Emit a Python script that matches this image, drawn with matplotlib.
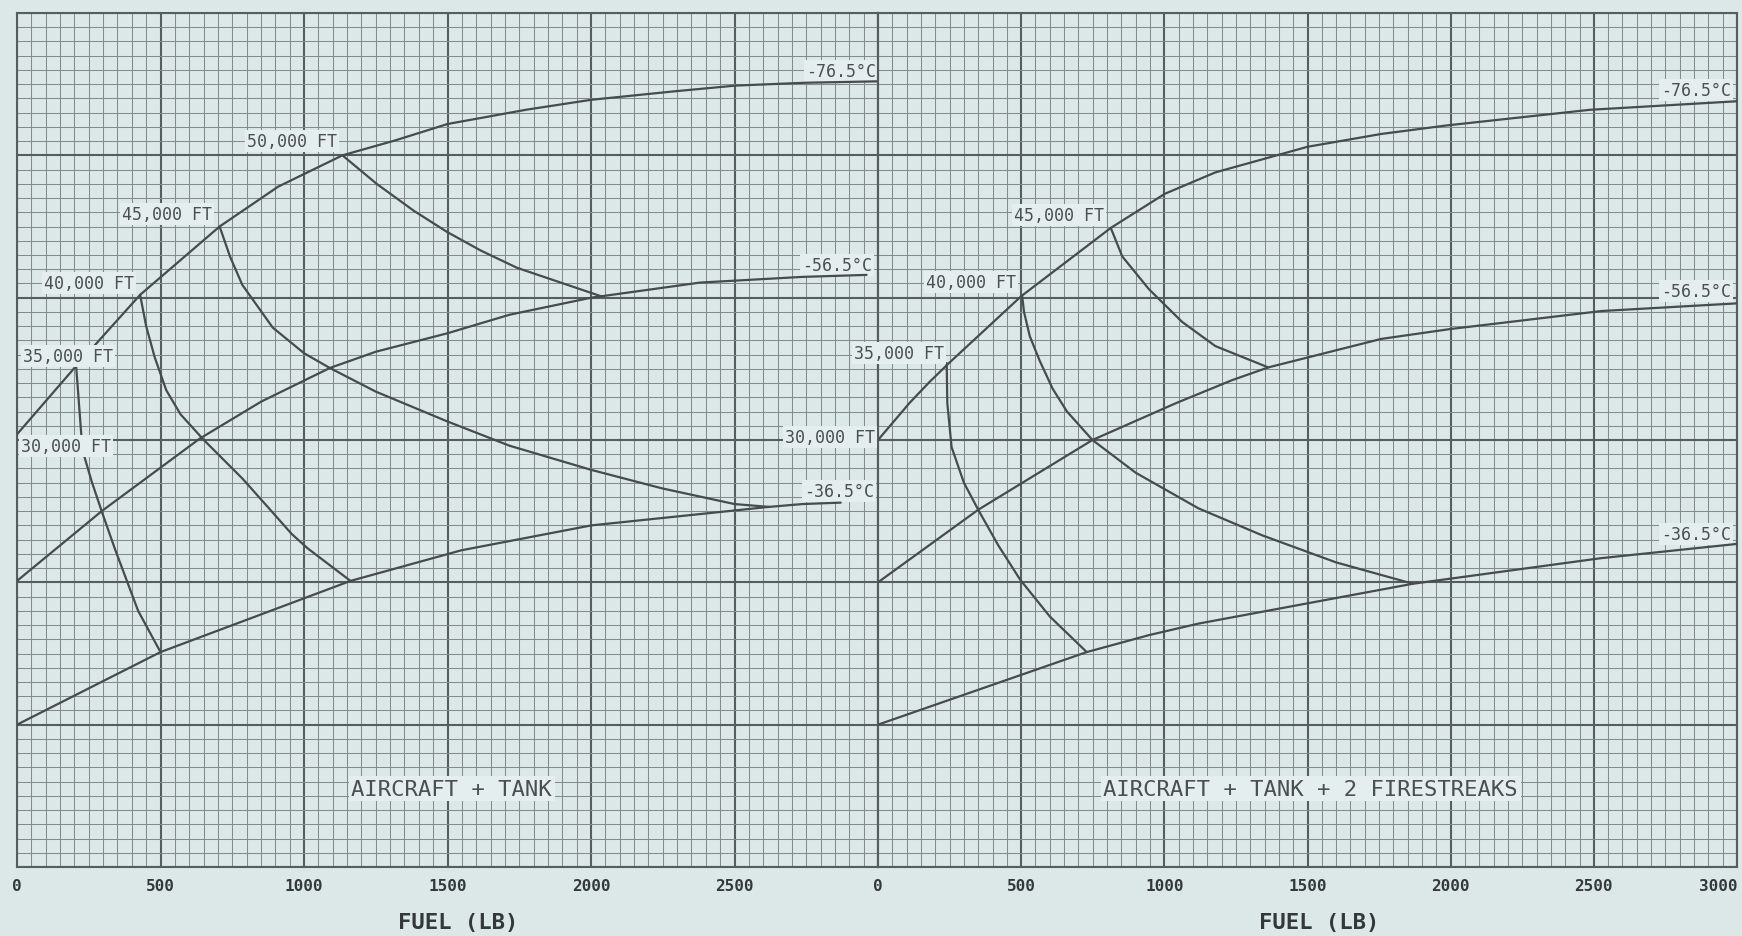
import numpy as np
import matplotlib.pyplot as plt

# fuel (lb) on x, height in small grid squares (chart has no y scale)
fuel_ticks = [0, 500, 1000, 1500, 2000, 2500, 3000]

# ---- AIRCRAFT + TANK (left panel) ----
# temperature lines
tank_765_fuel = [0, 206, 429, 706, 910, 1134, 1318, 1500, 1773, 2000, 2292, 2504, 2747, 3000]
tank_765_y = [30.4, 35.2, 40.2, 45.0, 47.8, 50.0, 51.05, 52.2, 53.2, 53.9, 54.5, 54.9, 55.1, 55.2]
tank_565_fuel = [0, 295, 637, 851, 1090, 1250, 1500, 1716, 2001, 2380, 2737, 2960]
tank_565_y = [20.1, 25.0, 30.1, 32.7, 35.06, 36.2, 37.5, 38.8, 40.0, 41.06, 41.46, 41.6]
tank_365_fuel = [0, 500, 1162, 1548, 2001, 2620, 2737, 2870]
tank_365_y = [10.0, 15.1, 20.1, 22.25, 24.0, 25.3, 25.5, 25.6]
# altitude lines
tank_35k_fuel = [206, 215, 228, 260, 295, 342, 422, 500]
tank_35k_y = [35.2, 32.8, 29.3, 27.1, 25.0, 22.3, 18.0, 15.1]
tank_40k_fuel = [429, 450, 480, 520, 570, 651, 785, 878, 957, 1012, 1162]
tank_40k_y = [40.2, 38.0, 35.8, 33.5, 31.8, 30.0, 27.3, 25.2, 23.4, 22.4, 20.1]
tank_45k_fuel = [706, 742, 785, 891, 1000, 1090, 1250, 1500, 1716, 2001, 2248, 2500, 2620]
tank_45k_y = [45.0, 42.9, 40.9, 37.9, 36.1, 35.06, 33.4, 31.3, 29.6, 27.9, 26.6, 25.5, 25.3]
tank_50k_fuel = [1134, 1253, 1383, 1500, 1617, 1742, 2035]
tank_50k_y = [50.0, 48.0, 46.1, 44.6, 43.3, 42.1, 40.1]

# ---- AIRCRAFT + TANK + 2 FIRESTREAKS (right panel) ----
fs_765_fuel = [0, 110, 181, 245, 500, 813, 1002, 1178, 1500, 1757, 1986, 2487, 3000]
fs_765_y = [30.0, 32.6, 34.1, 35.35, 40.1, 44.9, 47.3, 48.8, 50.6, 51.5, 52.1, 53.2, 53.8]
fs_565_fuel = [0, 350, 749, 1042, 1236, 1363, 1757, 2000, 2526, 3000]
fs_565_y = [20.0, 25.1, 30.0, 32.6, 34.2, 35.1, 37.1, 37.8, 39.06, 39.6]
fs_365_fuel = [0, 729, 948, 1119, 1868, 2526, 3000]
fs_365_y = [10.0, 15.1, 16.3, 17.1, 19.9, 21.7, 22.7]
fs_35k_fuel = [240, 242, 257, 300, 350, 420, 496, 600, 729]
fs_35k_y = [35.4, 32.6, 29.5, 27.0, 25.1, 22.6, 20.2, 17.6, 15.1]
fs_40k_fuel = [503, 510, 530, 564, 610, 660, 749, 900, 1119, 1342, 1600, 1868]
fs_40k_y = [40.2, 39.0, 37.3, 35.6, 33.6, 32.0, 30.0, 27.7, 25.2, 23.3, 21.4, 19.9]
fs_45k_fuel = [813, 853, 946, 1062, 1178, 1363]
fs_45k_y = [44.9, 42.9, 40.6, 38.3, 36.6, 35.1]

# labels: text, fuel, height
tank_alt_labels = [('50,000 FT', 1115, 51.0), ('45,000 FT', 680, 45.9),
                   ('40,000 FT', 408, 41.0), ('35,000 FT', 334, 35.9),
                   ('30,000 FT', 327, 29.6)]
tank_temp_labels = [('-76.5°C', 2992, 55.9), ('-56.5°C', 2980, 42.3),
                    ('-36.5°C', 2986, 26.4)]
fs_alt_labels = [('45,000 FT', 789, 45.8), ('40,000 FT', 483, 41.1),
                 ('35,000 FT', 230, 36.1), ('30,000 FT', -9, 30.2)]
fs_temp_labels = [('-76.5°C', 2979, 54.6), ('-56.5°C', 2979, 40.45),
                  ('-36.5°C', 2979, 23.4)]
tank_title = ('AIRCRAFT + TANK', 1515, 5.5)
fs_title = ('AIRCRAFT + TANK + 2 FIRESTREAKS', 1511, 5.5)

bg = '#dce8e8'
ink = '#464b4e'
minor_c = '#838b8d'
major_c = '#565d60'
mono = 'DejaVu Sans Mono'

W, H = 1742, 937
fig = plt.figure(figsize=(W / 100, H / 100), dpi=100, facecolor=bg)
bottom = 1 - 868 / H
height = (868 - 14) / H
ax1 = fig.add_axes([17 / W, bottom, (878 - 17) / W, height])
ax2 = fig.add_axes([878 / W, bottom, (1737 - 878) / W, height])


def graph_paper(ax, ticklabels):
    ax.set_facecolor(bg)
    ax.set_xlim(0, 3000)
    ax.set_ylim(0, 60)
    ax.set_xticks(fuel_ticks)
    ax.set_xticklabels(ticklabels)
    ax.set_xticks(np.arange(0, 3001, 50), minor=True)
    ax.set_yticks(np.arange(0, 61, 10))
    ax.set_yticks(np.arange(0, 61, 1), minor=True)
    ax.set_yticklabels([])
    ax.tick_params(which='both', length=0)
    ax.tick_params(axis='x', pad=8, labelsize=11.5, labelcolor='#33383b')
    for t in ax.get_xticklabels():
        t.set_fontfamily(mono)
        t.set_fontweight('bold')
    ax.grid(which='minor', color=minor_c, lw=0.75)
    ax.grid(which='major', color=major_c, lw=1.5)
    ax.set_axisbelow(True)
    for s in ax.spines.values():
        s.set_color(major_c)
        s.set_linewidth(1.5)


def curves(ax, lines):
    for fx, fy in lines:
        ax.plot(fx, fy, color=ink, lw=1.6, solid_capstyle='round',
                solid_joinstyle='round', zorder=3)


box = dict(boxstyle='square,pad=0.12', fc='#e5eeee', ec='none')


def labels(ax, lab, z):
    # altitude tags are pasted over the curves, temperature tags sit under them
    for txt, x, y in lab:
        ax.text(x, y, txt, ha='right', va='center', fontsize=12, family=mono,
                color='#4a4f52', bbox=box, zorder=z, clip_on=False)


def title(ax, t):
    ax.text(t[1], t[2], t[0], ha='center', va='center', fontsize=16,
            family=mono, color='#4a4f52', bbox=box, zorder=5)


graph_paper(ax1, ['0', '500', '1000', '1500', '2000', '2500', ''])
graph_paper(ax2, ['0', '500', '1000', '1500', '2000', '2500', '3000'])
ax2.get_xticklabels()[-1].set_horizontalalignment('right')

curves(ax1, [(tank_765_fuel, tank_765_y), (tank_565_fuel, tank_565_y),
             (tank_365_fuel, tank_365_y), (tank_35k_fuel, tank_35k_y),
             (tank_40k_fuel, tank_40k_y), (tank_45k_fuel, tank_45k_y),
             (tank_50k_fuel, tank_50k_y)])
curves(ax2, [(fs_765_fuel, fs_765_y), (fs_565_fuel, fs_565_y),
             (fs_365_fuel, fs_365_y), (fs_35k_fuel, fs_35k_y),
             (fs_40k_fuel, fs_40k_y), (fs_45k_fuel, fs_45k_y)])

labels(ax1, tank_alt_labels, 5)
labels(ax1, tank_temp_labels, 2.5)
labels(ax2, fs_alt_labels, 5)
labels(ax2, fs_temp_labels, 2.5)
title(ax1, tank_title)
title(ax2, fs_title)

fig.text(458 / W, 1 - 923 / H, 'FUEL (LB)', ha='center', va='center',
         fontsize=16, family=mono, fontweight='bold', color='#33383b')
fig.text(1319 / W, 1 - 923 / H, 'FUEL (LB)', ha='center', va='center',
         fontsize=16, family=mono, fontweight='bold', color='#33383b')

fig.savefig('out.png', dpi=100, facecolor=bg)
